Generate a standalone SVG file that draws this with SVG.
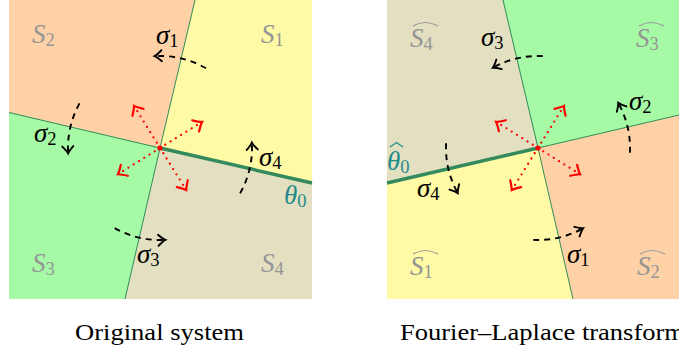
<svg xmlns="http://www.w3.org/2000/svg" width="679" height="352" viewBox="0 0 679 352">
<style>
.peach{fill:#fed2a6}
.yellow{fill:#fffaa6}
.green{fill:#a6faa6}
.khaki{fill:#e3e0c1}
.bd{stroke:#2e8b57;stroke-width:1;fill:none}
.th{stroke:#338a5c;stroke-width:3.4;fill:none;stroke-linecap:butt}
text{font-family:'Liberation Serif','DejaVu Serif','Times New Roman',serif}
.reg{font-style:italic;font-size:27px;fill:#959595}
.sig{font-style:italic;font-size:27px;fill:#000}
.tht{font-style:italic;font-size:27px;fill:#1f8a8a}
.sub{font-style:normal;font-size:18.5px}
.hat{fill:none;stroke:#959595;stroke-width:1.1}
.cap{font-size:24px;fill:#000}
.arc{fill:none;stroke:#000;stroke-width:1.9;stroke-dasharray:6 5;marker-end:url(#ah)}
.ray{fill:none;stroke:#f00;stroke-width:2.3;stroke-linecap:round;stroke-dasharray:0 6.2;marker-end:url(#rh)}
</style>
<defs>
<marker id="ah" markerUnits="userSpaceOnUse" orient="auto" refX="0" refY="0" markerWidth="14" markerHeight="14" viewBox="-9 -7 11 14" overflow="visible">
<path d="M-6.5,-5.5 Q-2,-1.2 0.6,0 Q-2,1.2 -6.5,5.5" fill="none" stroke="#000" stroke-width="1.9" stroke-linecap="round" stroke-dasharray="none"/>
</marker>
<marker id="rh" markerUnits="userSpaceOnUse" orient="auto" refX="0" refY="0" markerWidth="14" markerHeight="16" viewBox="-10 -8 12 16" overflow="visible">
<path d="M-7,-6.5 Q-2,-1.5 0.5,0 Q-2,1.5 -7,6.5" fill="none" stroke="#f00" stroke-width="2.2" stroke-linecap="round" stroke-dasharray="none"/>
</marker>
</defs>
<rect width="679" height="352" fill="#fff"/>

<g id="left-panel">
<g id="S2"><polygon class="peach" points="9,0 195,0 160,148 9,112.5"/><text class="reg" x="32" y="43">S<tspan class="sub" dy="3">2</tspan></text></g>
<g id="S1"><polygon class="yellow" points="195,0 312,0 312,183 160,148"/><text class="reg" x="261" y="43">S<tspan class="sub" dy="3">1</tspan></text></g>
<g id="S4"><polygon class="khaki" points="160,148 312,183 312,299 125,299"/><text class="reg" x="261" y="272">S<tspan class="sub" dy="3">4</tspan></text></g>
<g id="S3"><polygon class="green" points="9,112.5 160,148 125,299 9,299"/><text class="reg" x="32" y="272">S<tspan class="sub" dy="3">3</tspan></text></g>
<g id="bounds-left">
<line class="bd" x1="160" y1="148" x2="195" y2="0"/>
<line class="bd" x1="160" y1="148" x2="9" y2="112.5"/>
<line class="bd" x1="160" y1="148" x2="125" y2="299"/>
<line class="th" x1="160" y1="148" x2="312" y2="183"/>
</g>
</g>

<g id="right-panel">
<g id="S4hat"><polygon class="khaki" points="387,0 503,0 538,148 387,183"/><text class="reg" x="410" y="47">S<tspan class="sub" dy="3">4</tspan></text><path class="hat" d="M413,26 Q425,19 438,26"/></g>
<g id="S3hat"><polygon class="green" points="503,0 679,0 679,115 538,148"/><text class="reg" x="636" y="47">S<tspan class="sub" dy="3">3</tspan></text><path class="hat" d="M639,26 Q651,19 664,26"/></g>
<g id="S2hat"><polygon class="peach" points="538,148 679,115 679,299 573,299"/><text class="reg" x="637" y="275">S<tspan class="sub" dy="3">2</tspan></text><path class="hat" d="M640,254 Q652,247 665,254"/></g>
<g id="S1hat"><polygon class="yellow" points="387,183 538,148 573,299 387,299"/><text class="reg" x="410" y="275">S<tspan class="sub" dy="3">1</tspan></text><path class="hat" d="M413,254 Q425,247 438,254"/></g>
<g id="bounds-right">
<line class="bd" x1="538" y1="148" x2="503" y2="0"/>
<line class="bd" x1="538" y1="148" x2="679" y2="115"/>
<line class="bd" x1="538" y1="148" x2="573" y2="299"/>
<line class="th" x1="538" y1="148" x2="387" y2="183"/>
</g>
</g>

<g id="connectors">
<path class="arc" d="M206,68.3 A92,92 0 0 0 155.2,56.1"/>
<path class="arc" d="M79.5,103.4 A92,92 0 0 0 68.1,152.8"/>
<path class="arc" d="M114.7,228.1 A92,92 0 0 0 164.8,239.9"/>
<path class="arc" d="M240.1,193.3 A92,92 0 0 0 251.9,143.2"/>
<path class="arc" d="M542.8,56.1 A92,92 0 0 0 493.4,67.5"/>
<path class="arc" d="M629.9,152.8 A92,92 0 0 0 618.5,103.4"/>
<path class="arc" d="M446.1,143.2 A92,92 0 0 0 457.5,192.6"/>
<path class="arc" d="M533.2,239.9 A92,92 0 0 0 582.6,228.5"/>
<line class="ray" x1="160" y1="148" x2="134.3" y2="106.3"/>
<line class="ray" x1="160" y1="148" x2="201.6" y2="122.2"/>
<line class="ray" x1="160" y1="148" x2="186" y2="189.6"/>
<line class="ray" x1="160" y1="148" x2="118.4" y2="174"/>
<line class="ray" x1="538" y1="148" x2="563.7" y2="106.3"/>
<line class="ray" x1="538" y1="148" x2="496.4" y2="122"/>
<line class="ray" x1="538" y1="148" x2="512" y2="189.6"/>
<line class="ray" x1="538" y1="148" x2="579.6" y2="174"/>
<circle cx="160" cy="148" r="2.6" fill="#f00"/>
<circle cx="538" cy="148" r="2.6" fill="#f00"/>
</g>

<g id="labels">
<text class="sig" x="156" y="44">σ<tspan class="sub" dy="3">1</tspan></text>
<text class="sig" x="34" y="142">σ<tspan class="sub" dy="3">2</tspan></text>
<text class="sig" x="137" y="263">σ<tspan class="sub" dy="3">3</tspan></text>
<text class="sig" x="259" y="166">σ<tspan class="sub" dy="3">4</tspan></text>
<text class="tht" x="284" y="204">θ<tspan class="sub" dy="3">0</tspan></text>
<text class="sig" x="481" y="46">σ<tspan class="sub" dy="3">3</tspan></text>
<text class="sig" x="629" y="110">σ<tspan class="sub" dy="3">2</tspan></text>
<text class="sig" x="417" y="197">σ<tspan class="sub" dy="3">4</tspan></text>
<text class="sig" x="567" y="263">σ<tspan class="sub" dy="3">1</tspan></text>
<text class="tht" x="387" y="170">θ<tspan class="sub" dy="3">0</tspan></text>
<path d="M390,147 L396.5,142.5 L403,147" fill="none" stroke="#1f8a8a" stroke-width="1.1"/>
</g>

<g id="captions">
<text class="cap" x="75" y="340" textLength="169" lengthAdjust="spacingAndGlyphs">Original system</text>
<text class="cap" x="400" y="340" textLength="285" lengthAdjust="spacingAndGlyphs">Fourier–Laplace transform</text>
</g>
</svg>
